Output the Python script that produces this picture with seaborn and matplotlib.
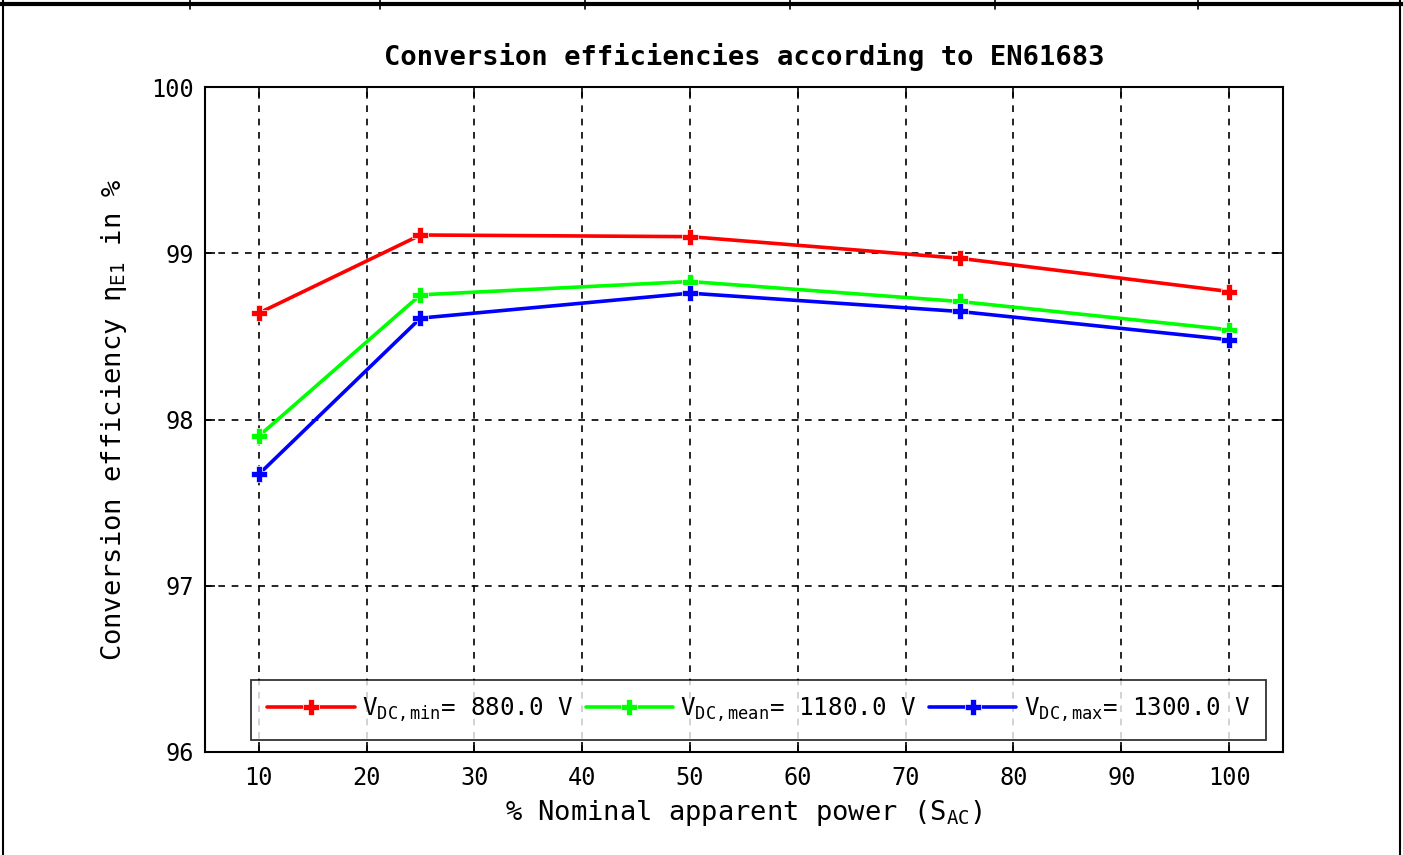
import matplotlib
matplotlib.use("Agg")
import matplotlib.pyplot as plt
import seaborn as sns
import pandas as pd
from matplotlib.lines import Line2D

power_pct = [10, 25, 50, 75, 100]
eff_vmin = [98.64, 99.11, 99.10, 98.97, 98.77]
eff_vmean = [97.90, 98.75, 98.83, 98.71, 98.54]
eff_vmax = [97.67, 98.61, 98.76, 98.65, 98.48]
series_labels = [r"V$_{DC,min}$= 880.0 V", r"V$_{DC,mean}$= 1180.0 V", r"V$_{DC,max}$= 1300.0 V"]
series_colors = ["#ff0000", "#00ff00", "#0000ff"]
x_ticks = [10, 20, 30, 40, 50, 60, 70, 80, 90, 100]
y_ticks = [96, 97, 98, 99, 100]

rows = []
for lab, vals in zip(series_labels, [eff_vmin, eff_vmean, eff_vmax]):
    for x, y in zip(power_pct, vals):
        rows.append({"power": x, "eff": y, "series": lab})
df = pd.DataFrame(rows)

sns.set_style("ticks")
plt.rcParams["font.family"] = ["DejaVu Sans Mono", "DejaVu Sans"]
plt.rcParams["mathtext.fontset"] = "custom"
plt.rcParams["mathtext.rm"] = "DejaVu Sans Mono"
plt.rcParams["mathtext.it"] = "DejaVu Sans Mono"
plt.rcParams["mathtext.default"] = "regular"
plt.rcParams["text.color"] = "black"
plt.rcParams["axes.labelcolor"] = "black"

fig = plt.figure(figsize=(14.03, 8.55), dpi=100)
ax = fig.add_axes([0.146, 0.1205, 0.7685, 0.7777])

sns.lineplot(data=df, x="power", y="eff", hue="series", hue_order=series_labels,
             palette=series_colors, marker="P", markersize=11, markeredgewidth=0.5,
             linewidth=2.6, ax=ax, legend=True)

ax.set_xlim(5, 105)
ax.set_ylim(96, 100)
ax.set_xticks(x_ticks)
ax.set_yticks(y_ticks)
ax.tick_params(direction="in", top=True, right=True, length=7, width=1.2,
               labelsize=17, colors="black")
ax.tick_params(axis="x", pad=10)
ax.tick_params(axis="y", pad=8)
ax.grid(True, color="black", linestyle=(0, (4, 4)), linewidth=1.2)
for s in ax.spines.values():
    s.set_linewidth(1.5)
    s.set_color("black")

ax.set_title("Conversion efficiencies according to EN61683", fontsize=19.5,
             fontweight="bold", pad=16, color="black")
ax.set_xlabel(r"% Nominal apparent power (S$_{AC}$)", fontsize=19.5, labelpad=6)
ax.set_ylabel(r"Conversion efficiency η$_{E1}$ in %", fontsize=19.5, labelpad=16)

handles, labels = ax.get_legend_handles_labels()
leg = ax.legend(handles, labels, loc="lower center", ncol=3, fontsize=17.5,
                frameon=True, fancybox=False, edgecolor="black",
                bbox_to_anchor=(0.5135, 0.018), borderaxespad=0, handlelength=3.6,
                columnspacing=0.5, handletextpad=0.3, borderpad=0.65)
leg.get_frame().set_linewidth(1.3)

# page border / table lines
fig.add_artist(Line2D([0, 1], [0.995, 0.995], transform=fig.transFigure, color="black", lw=3))
fig.add_artist(Line2D([0.002, 0.002], [0, 1], transform=fig.transFigure, color="black", lw=1.5))
fig.add_artist(Line2D([0.998, 0.998], [0, 1], transform=fig.transFigure, color="black", lw=1.5))
for xp in [190, 380, 585, 790, 995, 1198]:
    fig.add_artist(Line2D([xp / 1403, xp / 1403], [0.99, 1], transform=fig.transFigure,
                          color="black", lw=1.2))

fig.savefig("out.png", dpi=100)
